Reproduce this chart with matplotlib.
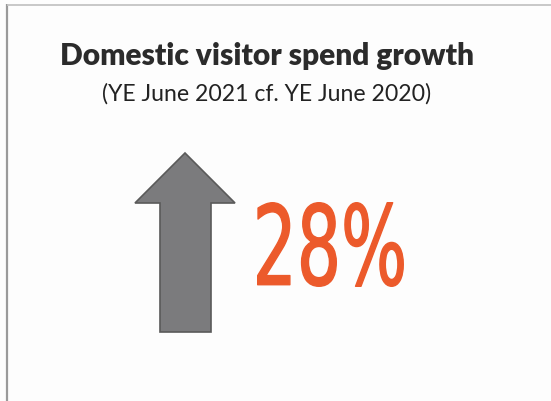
import matplotlib
matplotlib.use("Agg")
import matplotlib.pyplot as plt
from matplotlib.patches import Polygon, PathPatch
from matplotlib.textpath import TextPath
from matplotlib.font_manager import FontProperties
from matplotlib.transforms import Affine2D

title = "Domestic visitor spend growth"
subtitle = "(YE June 2021 cf. YE June 2020)"
growth_pct = [28]
value_label = f"{growth_pct[0]}%"

W, H = 551, 401
fig = plt.figure(figsize=(W / 100, H / 100), dpi=100)
fig.patch.set_facecolor("#fdfdfd")
ax = fig.add_axes([0, 0, 1, 1])
ax.set_xlim(0, W)
ax.set_ylim(H, 0)
ax.axis("off")

# card border (left and top edges visible)
ax.plot([7, 7], [4, H], color="#9a9a9a", lw=1.6, solid_capstyle="butt")
ax.plot([7, W], [4.5, 4.5], color="#c4c4c4", lw=1.3, solid_capstyle="butt")

# titles
ax.text(267, 56, title, ha="center", va="center", fontsize=21.5,
        fontweight="heavy", family="Lato", color="#2b2b2b")
ax.text(267, 94, subtitle, ha="center", va="center", fontsize=16.6,
        family="Lato", color="#222222")

# upward arrow
arrow = [(185, 153), (235, 203), (211, 203), (211, 332),
         (160, 332), (160, 203), (135, 203)]
ax.add_patch(Polygon(arrow, closed=True, facecolor="#7b7b7d",
                     edgecolor="#5a5a5a", lw=1.2))


def fitted_text(s, x0, x1, ytop, ybot, props):
    tp = TextPath((0, 0), s, size=100, prop=props)
    bb = tp.get_extents()
    sx = (x1 - x0) / bb.width
    sy = (ybot - ytop) / bb.height
    tr = (Affine2D().translate(-bb.x0, -bb.y1)
          .scale(sx, -sy).translate(x0, ytop))
    return tr.transform_path(tp)


orange = "#ec5a2b"
path = fitted_text(value_label, 257.7, 403.3, 202.7, 286.3,
                   FontProperties(family="DejaVu Sans"))
ax.add_patch(PathPatch(path, facecolor=orange, edgecolor=orange,
                       lw=1.0, joinstyle="round"))

fig.savefig("out.png", dpi=100, facecolor=fig.get_facecolor())
